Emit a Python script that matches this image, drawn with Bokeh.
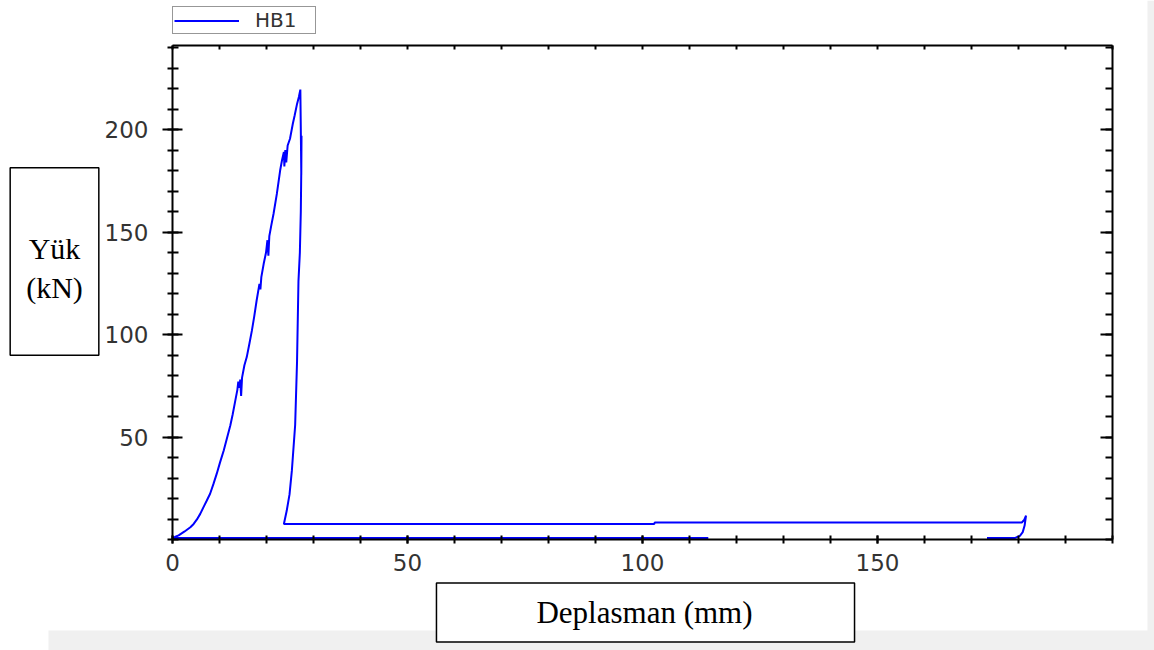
import numpy as np
from bokeh.plotting import figure
from bokeh.models import (ColumnDataSource, LinearAxis, FixedTicker, Range1d,
                          Legend, LegendItem, Label, BoxAnnotation)
from bokeh.embed import file_html
from bokeh.resources import INLINE

# ---------------- data ----------------
series_name = "HB1"
x_title = "Deplasman (mm)"
y_title = "Yük\n(kN)"
x_tick_values = [0, 50, 100, 150]
y_tick_values = [50, 100, 150, 200]
x_limits = (0, 200)
y_limits = (0, 241)

disp_mm = np.array([
    0.0, 0.5, 1.3, 2.5, 3.8, 4.5, 5.2, 5.9, 6.6, 7.3, 8.0, 8.7, 9.4, 10.1,
    10.9, 11.6, 12.3, 12.8, 13.3, 13.8, 14.0, 14.3, 14.4, 14.6, 14.8, 15.3,
    15.8, 16.4, 16.9, 17.4, 17.9, 18.5, 18.7, 18.9, 19.4, 19.9, 20.2, 20.4,
    20.6, 21.0, 21.5, 22.2, 22.9, 23.3, 23.7, 23.8, 24.0, 24.2, 24.5, 25.0,
    25.6, 26.0, 26.5, 26.9, 27.2, 27.3, 27.4, 27.45, 27.4, 27.3, 27.1, 26.8,
    26.5, 26.1, 25.4, 24.9, 24.3, 23.7, 60.0, 102.5, 102.6, 180.7, 181.2,
    181.6, 181.3, 180.9, 180.3, 179.2, 173.3, np.nan, 114.0, 0.0])

load_kn = np.array([
    0.8, 1.2, 2.0, 3.8, 6.0, 7.6, 9.8, 12.5, 15.8, 19.0, 22.3, 27.0, 32.0, 37.5,
    43.4, 49.5, 55.6, 61.0, 67.0, 73.0, 77.0, 74.0, 78.0, 70.0, 79.0, 85.0,
    89.0, 96.0, 102.0, 109.0, 116.6, 124.7, 122.0, 128.0, 134.5, 140.0, 146.0, 138.5,
    148.0, 153.0, 158.9, 168.6, 180.0, 185.0, 189.0, 182.0, 190.0, 184.0, 192.2, 195.5,
    202.8, 207.0, 212.5, 216.0, 219.5, 200.0, 178.0, 197.0, 180.0, 160.0, 140.0, 126.0,
    87.0, 56.0, 33.7, 22.0, 14.0, 7.6, 7.6, 7.6, 8.3, 8.3, 9.5,
    11.7, 6.8, 3.6, 1.8, 0.7, 0.7, np.nan, 0.7, 0.7])

src = ColumnDataSource(data=dict(x=disp_mm, y=load_kn))

# ---------------- geometry of the canvas (pixels) ----------------
W, H = 1154, 650
AX_L, AX_R, AX_T, AX_B = 172, 1112, 45, 539          # plotting box in px
kx = (AX_R - AX_L) / (x_limits[1] - x_limits[0])
ky = (AX_B - AX_T) / (y_limits[1] - y_limits[0])
x_range = Range1d(x_limits[0] - AX_L / kx, x_limits[1] + (W - AX_R) / kx)
y_range = Range1d(y_limits[0] - (H - AX_B) / ky, y_limits[1] + AX_T / ky)

p = figure(frame_width=W, frame_height=H, x_range=x_range, y_range=y_range,
           output_backend="svg", toolbar_location=None,
           x_axis_location=None, y_axis_location=None, min_border=0,
           background_fill_color="white", border_fill_color="white",
           outline_line_color=None)
p.grid.visible = False

# light grey strips of the original screenshot
p.add_layout(BoxAnnotation(left=(48 - AX_L) / kx, top=(AX_B - 630) / ky,
                           fill_color="#f0f0f0", fill_alpha=1, line_color=None,
                           level="underlay"))
p.add_layout(BoxAnnotation(left=(1147 - AX_L) / kx,
                           fill_color="#f0f0f0", fill_alpha=1, line_color=None,
                           level="underlay"))

TICK_FONT = "DejaVu Sans"
TICK_COLOR = "#333333"


def base_style(ax):
    ax.axis_line_color = "black"
    ax.axis_line_width = 2
    ax.major_tick_line_color = "black"
    ax.major_tick_line_width = 2
    ax.minor_tick_line_color = "black"
    ax.minor_tick_line_width = 2
    ax.major_label_text_font = TICK_FONT
    ax.major_label_text_font_size = "23px"
    ax.major_label_text_color = TICK_COLOR


x_minor = list(range(0, 201, 10))
y_minor = list(range(0, 241, 10))

bottom = LinearAxis(fixed_location=y_limits[0], bounds=x_limits,
                    ticker=FixedTicker(ticks=x_tick_values, minor_ticks=x_minor))
base_style(bottom)
bottom.major_tick_in = 4
bottom.major_tick_out = 4
bottom.minor_tick_in = 4
bottom.minor_tick_out = 4
bottom.major_label_standoff = 10
p.add_layout(bottom, "below")

left = LinearAxis(fixed_location=x_limits[0], bounds=y_limits,
                  ticker=FixedTicker(ticks=y_tick_values, minor_ticks=y_minor))
base_style(left)
left.major_tick_in = 10
left.major_tick_out = 10
left.minor_tick_in = 6
left.minor_tick_out = 5
left.major_label_standoff = 14
p.add_layout(left, "left")

top = LinearAxis(fixed_location=y_limits[1], bounds=x_limits,
                 ticker=FixedTicker(ticks=[], minor_ticks=x_minor))
base_style(top)
top.major_tick_in = 0
top.major_tick_out = 0
top.minor_tick_in = 4
top.minor_tick_out = 0
p.add_layout(top, "above")

right = LinearAxis(fixed_location=x_limits[1], bounds=y_limits,
                   ticker=FixedTicker(ticks=y_tick_values, minor_ticks=y_minor))
base_style(right)
right.major_tick_in = 12
right.major_tick_out = 0
right.minor_tick_in = 7
right.minor_tick_out = 0
right.major_label_text_color = None
right.major_label_text_font_size = "1px"
right.major_label_standoff = 0
p.add_layout(right, "right")

r = p.line("x", "y", source=src, line_color="#0000ff", line_width=2)

legend = Legend(items=[LegendItem(label=series_name, renderers=[r])],
                location=(AX_L, H - 34), orientation="vertical",
                padding=1, margin=0, spacing=0,
                glyph_width=65, glyph_height=19,
                label_standoff=16, label_width=59, label_height=19,
                label_text_font="DejaVu Sans", label_text_font_size="20px",
                label_text_color="#333333",
                border_line_color="#303030", border_line_width=1.5,
                background_fill_color="white", background_fill_alpha=1.0)
p.add_layout(legend)

ylab = Label(x=54, y=H - 261, x_units="screen", y_units="screen",
             text=y_title, text_font="Liberation Serif", text_font_size="30px",
             text_align="center", text_baseline="middle", text_line_height=1.2,
             text_color="black",
             padding=dict(top=64, right=16, bottom=51, left=16),
             border_line_color="black", border_line_width=1.5,
             background_fill_color="white")
p.add_layout(ylab)

xlab = Label(x=645, y=H - 612, x_units="screen", y_units="screen",
             text=x_title, text_font="Liberation Serif", text_font_size="31px",
             text_align="center", text_baseline="middle",
             text_color="black",
             padding=dict(top=12, right=102, bottom=12, left=100),
             border_line_color="black", border_line_width=1.5,
             background_fill_color="white")
p.add_layout(xlab)

open("out.html", "w").write(file_html(p, INLINE))
